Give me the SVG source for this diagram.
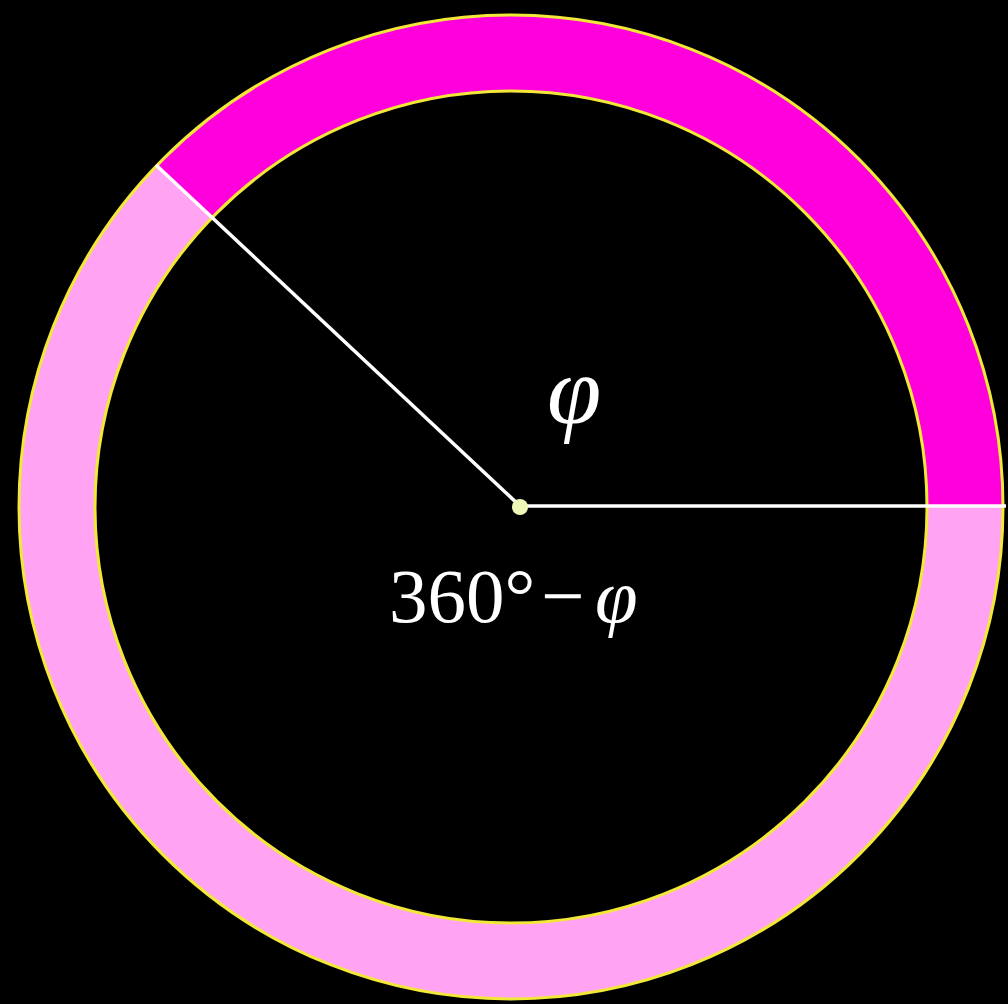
<svg xmlns="http://www.w3.org/2000/svg" width="1008" height="1004" viewBox="0 0 1008 1004">
<style>
.ring{stroke:#F2E838;stroke-width:3;fill:none}
.ray{stroke:#FFFFFF;stroke-width:3.5;fill:none}
.lbl{font-family:"Liberation Serif","Times New Roman",serif;fill:#FFFFFF}
</style>
<rect x="0" y="0" width="1008" height="1004" fill="#000000"/>
<g id="ring">
<path d="M 1003 507 A 492 492 0 1 0 19 507 A 492 492 0 1 0 1003 507 Z M 927 507 A 416 416 0 1 0 95 507 A 416 416 0 1 0 927 507 Z" fill="#FFA3F2" fill-rule="evenodd"/>
<path id="sector" d="M 1003 507 A 492 492 0 0 0 157.1 165.2 L 211.8 218 A 416 416 0 0 1 927 507 Z" fill="#FF00DC"/>
<circle class="ring" cx="511" cy="507" r="492"/>
<circle class="ring" cx="511" cy="507" r="416"/>
</g>
<g id="connectors">
<line class="ray" x1="520" y1="506" x2="1006" y2="506"/>
<line class="ray" x1="520" y1="506" x2="156" y2="165"/>
</g>
<g id="center">
<circle cx="520" cy="507" r="8" fill="#F0F8B8"/>
</g>
<g id="labels">
<text class="lbl" x="547" y="423" font-size="98" font-style="italic">φ</text>
<text class="lbl" x="389" y="622" font-size="77">360°</text>
<text class="lbl" x="541" y="622" font-size="77">−</text>
<text class="lbl" x="595" y="622" font-size="77" font-style="italic">φ</text>
</g>
</svg>
